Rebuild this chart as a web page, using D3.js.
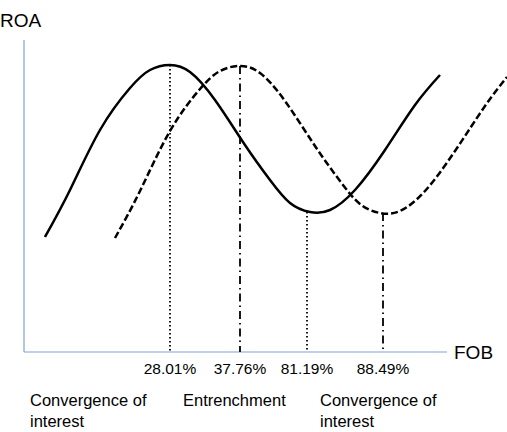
<!DOCTYPE html><html><head><meta charset="utf-8">
<script src="https://d3js.org/d3.v7.min.js"></script>
<style>body{margin:0;background:#fff}text{font-family:Arial,"Liberation Sans",sans-serif;fill:#000}</style>
</head><body><svg id="c" width="507" height="432"></svg>
<script>
const solidX=[45,70,100,130,150,170,190,215,245,270,290,310,330,355,385,415,440];
const solidY=[115,162,222,264,282,287,280,252,207,172,149,140,142,162,202,247,277];
const dashX=[115,140,170,200,220,240,260,285,315,340,360,380,400,425,455,485,507];
const dashY=[114,161,221,263,281,286,279,251,206,171,148,139,141,161,201,246,275];
const markX=[170,240,307,383];
const markY=[287,286,140,139];
const markLabels=["28.01%","37.76%","81.19%","88.49%"];
const markStyle=["1.5,2.5","8,4,1.5,4","1.5,2.5","8,4,1.5,4"];
const svg=d3.select("#c");
const x=d3.scaleLinear().domain([0,507]).range([0,507]);
const y=d3.scaleLinear().domain([0,312]).range([352,40]);
svg.append("line").attr("x1",24).attr("x2",24).attr("y1",40).attr("y2",352).attr("stroke","#7fa3cf").attr("stroke-width",1.2);
svg.append("line").attr("x1",24).attr("x2",447).attr("y1",352).attr("y2",352).attr("stroke","#7fa3cf").attr("stroke-width",1.2);
svg.append("text").attr("x",0).attr("y",27).attr("font-size",19).text("ROA");
svg.append("text").attr("x",454).attr("y",359).attr("font-size",19).text("FOB");
const line=d3.line().x(d=>x(d[0])).y(d=>y(d[1])).curve(d3.curveNatural);
svg.append("path").attr("d",line(solidX.map((v,i)=>[v,solidY[i]]))).attr("fill","none").attr("stroke","#000").attr("stroke-width",2.5);
svg.append("path").attr("d",line(dashX.map((v,i)=>[v,dashY[i]]))).attr("fill","none").attr("stroke","#000").attr("stroke-width",2.5).attr("stroke-dasharray","7,3");
markX.forEach((mx,i)=>{
 svg.append("line").attr("x1",x(mx)).attr("x2",x(mx)).attr("y1",y(markY[i])).attr("y2",y(0)).attr("stroke","#000").attr("stroke-width",1.8).attr("stroke-dasharray",markStyle[i]);
 svg.append("text").attr("x",x(mx)).attr("y",374).attr("text-anchor","middle").attr("font-size",15.5).text(markLabels[i]);
});
const bl=[["Convergence of","interest",30],["Entrenchment","",183],["Convergence of","interest",320]];
bl.forEach(b=>{
 svg.append("text").attr("x",b[2]).attr("y",406).attr("font-size",16.5).text(b[0]);
 if(b[1])svg.append("text").attr("x",b[2]).attr("y",427).attr("font-size",16.5).text(b[1]);
});
</script></body></html>
